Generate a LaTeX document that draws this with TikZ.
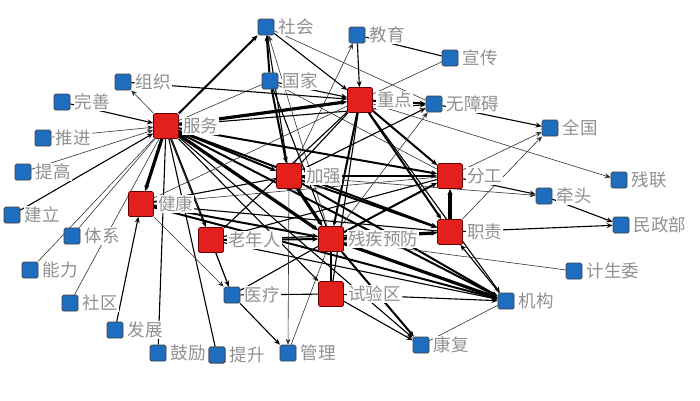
\documentclass[tikz,border=0pt]{standalone}
\usepackage{fontspec}
\newfontfamily\cjk{Noto Sans CJK SC}
\usetikzlibrary{arrows.meta}
\definecolor{nodered}{HTML}{E3201B}
\definecolor{nodeblue}{HTML}{1F6DBF}
\definecolor{labgray}{HTML}{909090}
\pgfdeclarelayer{edgelayer}
\pgfsetlayers{edgelayer,main}
\tikzset{
  rn/.style={draw=red!40!black, line width=0.7pt, fill=nodered, minimum size=25pt, inner sep=0pt, rounded corners=1.5pt},
  bn/.style={draw=black!75, line width=0.7pt, fill=nodeblue, minimum size=16pt, inner sep=0pt, rounded corners=1.5pt},
  lab/.style={font=\cjk\fontsize{17.5}{17.5}\selectfont, text=labgray, fill=white, inner sep=1pt, anchor=west},
  ar/.style={-{Stealth[length=6pt,width=5pt]}},
  ea/.style={draw=black!80, line width=0.6pt},
  eb/.style={draw=black, line width=1.1pt},
  ec/.style={draw=black, line width=2pt},
  ed/.style={draw=black, line width=3.2pt},
}
\begin{document}
\begin{tikzpicture}[x=1pt,y=-1pt]
\useasboundingbox (0,0) rectangle (700,400);
% blue nodes
\node[bn] (shehui) at (266,27) {};
\node[bn] (jiaoyu) at (357,35) {};
\node[bn] (xuanchuan) at (450,58) {};
\node[bn] (guojia) at (270,81) {};
\node[bn] (zuzhi) at (123,82) {};
\node[bn] (wanshan) at (62,102) {};
\node[bn] (tuijin) at (43,138) {};
\node[bn] (tigao) at (23,172) {};
\node[bn] (jianli) at (12,215) {};
\node[bn] (tixi) at (72,236) {};
\node[bn] (nengli) at (30,270) {};
\node[bn] (shequ) at (70,303) {};
\node[bn] (fazhan) at (115,330) {};
\node[bn] (guli) at (158,353) {};
\node[bn] (tisheng) at (217,355) {};
\node[bn] (guanli) at (288,353) {};
\node[bn] (yiliao) at (232,295) {};
\node[bn] (kangfu) at (421,345) {};
\node[bn] (jigou) at (506,301) {};
\node[bn] (jishengwei) at (574,271) {};
\node[bn] (minzhengbu) at (621,225) {};
\node[bn] (qiantou) at (544,196) {};
\node[bn] (canlian) at (619,180) {};
\node[bn] (quanguo) at (550,128) {};
\node[bn] (wuzhangai) at (434,104) {};
% red nodes
\node[rn] (fuwu) at (166,126) {};
\node[rn] (zhongdian) at (360,100) {};
\node[rn] (jiaqiang) at (289,176) {};
\node[rn] (fengong) at (450,176) {};
\node[rn] (jiankang) at (141,204) {};
\node[rn] (laonianren) at (211,240) {};
\node[rn] (cjyf) at (331,239) {};
\node[rn] (zhize) at (450,232) {};
\node[rn] (shiyanqu) at (331,294) {};

\begin{pgfonlayer}{edgelayer}
% fuwu hub
\draw[ec,ar] (fuwu) -- (shehui);
\draw[ea,ar] (fuwu) -- (zuzhi);
\draw[eb,ar] (wanshan) -- (fuwu);
\draw[ea,ar] (tuijin) -- (fuwu);
\draw[ea,ar] (tigao) -- (fuwu);
\draw[eb,ar] (jianli) -- (fuwu);
\draw[ea] (tixi) -- (fuwu);
\draw[ea] (nengli) -- (fuwu);
\draw[ea] (shequ) -- (fuwu);
\draw[eb] (guli) -- (fuwu);
\draw[eb] (tisheng) -- (fuwu);
\draw[ed,ar] (fuwu) -- (zhongdian);
\draw[ec,ar] (fuwu) -- (jiaqiang);
\draw[ed,ar] (fuwu) -- (cjyf);
\draw[ec,ar] (fuwu) -- (zhize);
\draw[ec,ar] (fuwu) -- (fengong);
\draw[ec,ar] (fuwu) -- (jigou);
\draw[eb,ar] (fuwu) -- (shiyanqu);
\draw[ed,ar] (fuwu) -- (jiankang);
\draw[ec,ar] (fuwu) -- (laonianren);
\draw[eb,ar] (fuwu) -- (kangfu);
\draw[eb,ar] (fuwu) -- (wuzhangai);
\draw[ea] (fuwu) -- (guojia);
\draw[ea] (fuwu) -- (yiliao);
\draw[eb,ar] (zuzhi) -- (zhongdian);
% shehui
\draw[ec,ar] (guojia) -- (shehui);
\draw[eb,ar] (jiaqiang) -- (shehui);
\draw[ea] (shehui) -- (wuzhangai);
\draw[eb,ar] (shehui) -- (zhongdian);
\draw[ea,ar] (cjyf) -- (shehui);
% guojia
\draw[ec,ar] (guojia) -- (jiaqiang);
\draw[eb,ar] (guojia) -- (zhongdian);
\draw[ea] (guojia) -- (fengong);
\draw[eb] (guojia) -- (cjyf);
% jiaoyu
\draw[eb,ar] (jiaoyu) -- (zhongdian);
\draw[eb] (jiaoyu) -- (xuanchuan);
\draw[ea] (xuanchuan) -- (zhongdian);
\draw[ea,ar] (jiaqiang) -- (jiaoyu);
% zhongdian
\draw[ec,ar] (zhongdian) -- (wuzhangai);
\draw[ea,ar] (zhongdian) -- (canlian);
\draw[ec,ar] (zhongdian) -- (fengong);
\draw[ec,ar] (zhongdian) -- (zhize);
\draw[ec,ar] (zhongdian) -- (cjyf);
\draw[eb,ar] (zhongdian) -- (jigou);
\draw[eb] (zhongdian) -- (jiaqiang);
\draw[eb] (zhongdian) -- (shiyanqu);
\draw[eb] (zhongdian) -- (laonianren);
\draw[ea] (zhongdian) -- (jiankang);
% wuzhangai
\draw[eb,ar] (wuzhangai) -- (quanguo);
\draw[eb,ar] (jiaqiang) -- (wuzhangai);
\draw[ea,ar] (cjyf) -- (wuzhangai);
% fengong
\draw[ea,ar] (fengong) -- (quanguo);
\draw[ea,ar] (zhize) -- (quanguo);
\draw[eb,ar] (fengong) -- (qiantou);
\draw[ea,ar] (jiaqiang) -- (qiantou);
\draw[eb,ar] (qiantou) -- (minzhengbu);
\draw[eb,ar] (zhize) -- (minzhengbu);
\draw[ed,ar] (zhize) -- (fengong);
\draw[ec,ar] (jiaqiang) -- (fengong);
\draw[ec,ar] (cjyf) -- (fengong);
% zhize
\draw[ed,ar] (cjyf) -- (zhize);
\draw[eb,ar] (jigou) -- (zhize);
\draw[ec,ar] (jiaqiang) -- (zhize);
% jigou
\draw[ed,ar] (cjyf) -- (jigou);
\draw[eb,ar] (shiyanqu) -- (jigou);
\draw[ec,ar] (jiaqiang) -- (jigou);
\draw[ec,ar] (jiankang) -- (jigou);
\draw[eb,ar] (laonianren) -- (jigou);
\draw[ea] (jigou) -- (kangfu);
\draw[ea] (cjyf) -- (jishengwei);
% kangfu
\draw[ec,ar] (cjyf) -- (kangfu);
\draw[eb,ar] (shiyanqu) -- (kangfu);
% yiliao
\draw[ea,ar] (jiankang) -- (yiliao);
\draw[eb,ar] (laonianren) -- (yiliao);
\draw[eb] (yiliao) -- (cjyf);
\draw[eb,ar] (yiliao) -- (guanli);
\draw[eb] (yiliao) -- (shiyanqu);
% guanli
\draw[ea,ar] (jiaqiang) -- (guanli);
\draw[ea] (cjyf) -- (guanli);
% laonianren
\draw[ec,ar] (laonianren) -- (cjyf);
\draw[eb] (laonianren) -- (zhize);
\draw[eb] (laonianren) -- (fengong);
% jiankang
\draw[ec,ar] (jiankang) -- (cjyf);
\draw[eb] (jiankang) -- (zhize);
\draw[eb] (jiankang) -- (jiaqiang);
\draw[ea] (jiankang) -- (fengong);
\draw[eb,ar] (fazhan) -- (jiankang);
% jiaqiang / cjyf
\draw[ed,ar] (jiaqiang) -- (cjyf);
\draw[eb] (cjyf) -- (shiyanqu);
\end{pgfonlayer}

% labels
\node[lab] (l-shehui) at ([xshift=3pt]shehui.east) {社会};
\node[lab] (l-jiaoyu) at ([xshift=3pt]jiaoyu.east) {教育};
\node[lab] (l-xuanchuan) at ([xshift=3pt]xuanchuan.east) {宣传};
\node[lab] (l-guojia) at ([xshift=3pt]guojia.east) {国家};
\node[lab] (l-zuzhi) at ([xshift=3pt]zuzhi.east) {组织};
\node[lab] (l-wanshan) at ([xshift=3pt]wanshan.east) {完善};
\node[lab] (l-tuijin) at ([xshift=3pt]tuijin.east) {推进};
\node[lab] (l-tigao) at ([xshift=3pt]tigao.east) {提高};
\node[lab] (l-jianli) at ([xshift=3pt]jianli.east) {建立};
\node[lab] (l-tixi) at ([xshift=3pt]tixi.east) {体系};
\node[lab] (l-nengli) at ([xshift=3pt]nengli.east) {能力};
\node[lab] (l-shequ) at ([xshift=3pt]shequ.east) {社区};
\node[lab] (l-fazhan) at ([xshift=3pt]fazhan.east) {发展};
\node[lab] (l-guli) at ([xshift=3pt]guli.east) {鼓励};
\node[lab] (l-tisheng) at ([xshift=3pt]tisheng.east) {提升};
\node[lab] (l-guanli) at ([xshift=3pt]guanli.east) {管理};
\node[lab] (l-yiliao) at ([xshift=3pt]yiliao.east) {医疗};
\node[lab] (l-kangfu) at ([xshift=3pt]kangfu.east) {康复};
\node[lab] (l-jigou) at ([xshift=3pt]jigou.east) {机构};
\node[lab] (l-jishengwei) at ([xshift=3pt]jishengwei.east) {计生委};
\node[lab] (l-minzhengbu) at ([xshift=3pt]minzhengbu.east) {民政部};
\node[lab] (l-qiantou) at ([xshift=3pt]qiantou.east) {牵头};
\node[lab] (l-canlian) at ([xshift=3pt]canlian.east) {残联};
\node[lab] (l-quanguo) at ([xshift=3pt]quanguo.east) {全国};
\node[lab] (l-wuzhangai) at ([xshift=3pt]wuzhangai.east) {无障碍};
\node[lab] (l-fuwu) at ([xshift=3pt]fuwu.east) {服务};
\node[lab] (l-zhongdian) at ([xshift=3pt]zhongdian.east) {重点};
\node[lab] (l-jiaqiang) at ([xshift=3pt]jiaqiang.east) {加强};
\node[lab] (l-fengong) at ([xshift=3pt]fengong.east) {分工};
\node[lab] (l-jiankang) at ([xshift=3pt]jiankang.east) {健康};
\node[lab] (l-laonianren) at ([xshift=3pt]laonianren.east) {老年人};
\node[lab] (l-cjyf) at ([xshift=3pt]cjyf.east) {残疾预防};
\node[lab] (l-zhize) at ([xshift=3pt]zhize.east) {职责};
\node[lab] (l-shiyanqu) at ([xshift=3pt]shiyanqu.east) {试验区};
% re-draw squares over labels where they overlap
\node[bn] (tisheng2) at (tisheng) {};
\end{tikzpicture}
\end{document}
